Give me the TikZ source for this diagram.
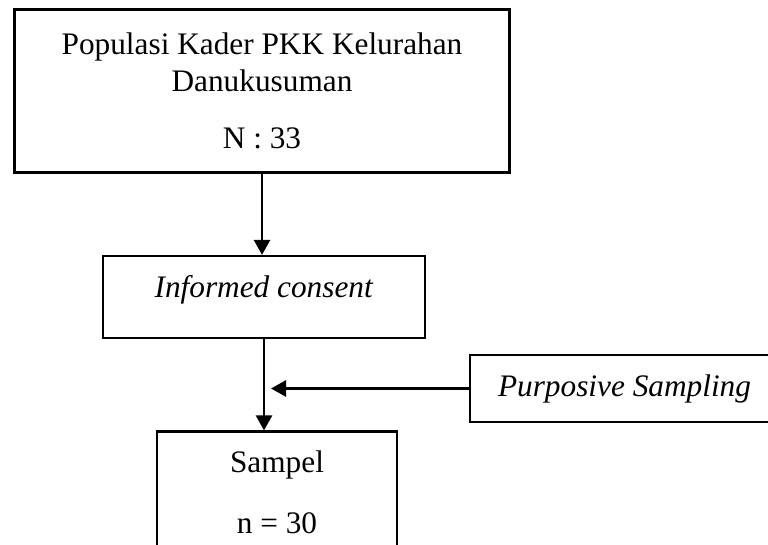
\documentclass[tikz,border=0pt]{standalone}
\usepackage{fontspec}
\setmainfont{Liberation Serif}
\usepackage{tikz}
\usetikzlibrary{positioning}
\usetikzlibrary{arrows.meta}

\tikzset{
	kotak/.style={rectangle, draw, line width=2.2pt, align=center, inner sep=0pt},
	panah/.style={line width=2.6pt, -{Triangle[length=15pt,width=16pt]}}
}

\begin{document}
\begin{tikzpicture}[x=1pt, y=-1pt, font=\fontsize{31.3}{37}\selectfont]
				\useasboundingbox (0,0) rectangle (768,544);
				
				\node[kotak, minimum width=495pt, minimum height=163pt] (pop) at (262,91) {Populasi Kader PKK Kelurahan\\ Danukusuman\\[20.6pt] N : 33};
				\node[kotak, minimum width=322pt, minimum height=82pt, text depth=21pt] (cons) at (264,297) {\textit{Informed consent}};
				\node[kotak, minimum width=309pt, minimum height=67pt] (purp) at (624.5,388.5) {\textit{Purposive Sampling}};
				\node[kotak, minimum width=240pt, minimum height=121pt] (samp) at (277,492) {Sampel\\[24pt] n = 30};
				
				\coordinate (temu) at (cons.south |- purp.west);
				
				\draw[panah] (pop.south) -- (pop.south |- cons.north);
				\draw[panah] (cons.south) -- (cons.south |- samp.north);
				\draw[panah, shorten >=7pt] (purp.west) -- (temu);
			\end{tikzpicture}
\end{document}
